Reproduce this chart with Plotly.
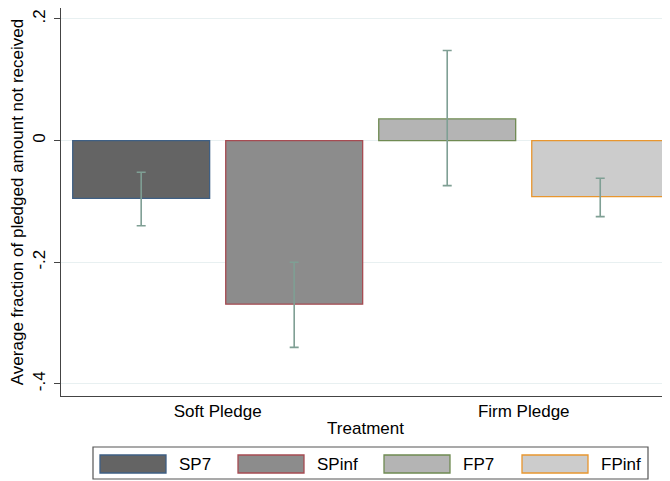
import plotly.graph_objects as go

# ---- data ----
categories = ["Soft Pledge", "Firm Pledge"]
series_names = ["SP7", "SPinf", "FP7", "FPinf"]
series_category = ["Soft Pledge", "Soft Pledge", "Firm Pledge", "Firm Pledge"]
series_slot = ["a", "b", "a", "b"]
means = [-0.095, -0.269, 0.0356, -0.092]
ci_lower = [-0.140, -0.340, -0.074, -0.125]
ci_upper = [-0.052, -0.200, 0.148, -0.062]
y_ticks = [0.2, 0.0, -0.2, -0.4]
y_tick_labels = [".2", "0", "-.2", "-.4"]

# ---- styles ----
fills = ["#646464", "#8c8c8c", "#b4b4b4", "#cccccc"]
outlines = ["#3e5f84", "#a64b52", "#6f8a52", "#e8962f"]
err_color = "#7f9f94"
font_family = "Liberation Sans, Arial, sans-serif"
FS = 17

# page has an 8px body margin; size the figure to fill the 670x481 window
OFF = 8
W, H = 670 - OFF, 481 - OFF
ML, MR, MT, MB = 61 - OFF, 0, 0, 85
pw, ph = W - ML - MR, H - MT - MB

fig = go.Figure()
for name, cat, slot, m, lo, hi, fc, oc in zip(series_names, series_category, series_slot,
                                               means, ci_lower, ci_upper, fills, outlines):
    fig.add_trace(go.Bar(
        x=[cat], y=[m], name=name, offsetgroup=slot,
        marker=dict(color=fc, line=dict(color=oc, width=1.3)),
        error_y=dict(type="data", symmetric=False, array=[hi - m], arrayminus=[m - lo],
                     color=err_color, thickness=1.6, width=4.5),
        showlegend=False,
    ))

fig.update_layout(
    width=W, height=H,
    margin=dict(l=ML, r=MR, t=MT, b=MB, pad=0),
    paper_bgcolor="white", plot_bgcolor="white",
    barmode="group", bargap=0.0, bargroupgap=0.105,
    font=dict(family=font_family, size=FS, color="#000000"),
    xaxis=dict(
        type="category", categoryorder="array", categoryarray=categories,
        range=[-0.512, 1.478],
        showline=True, linecolor="#444444", linewidth=1.2,
        ticks="", showgrid=False, zeroline=False,
        tickfont=dict(size=FS), ticklabelstandoff=-1,
        title=dict(text="Treatment", font=dict(size=FS), standoff=2),
    ),
    yaxis=dict(
        range=[-0.42, 0.218],
        tickvals=y_ticks, ticktext=y_tick_labels, tickangle=-90,
        ticks="outside", ticklen=6, tickcolor="#444444", tickwidth=1.2,
        showline=True, linecolor="#444444", linewidth=1.2,
        showgrid=True, gridcolor="#e8f0f1", gridwidth=1, zeroline=False,
        tickfont=dict(size=FS), ticklabelstandoff=2,
        title=dict(text="Average fraction of pledged amount not received",
                   font=dict(size=FS), standoff=2),
    ),
)

# ---- custom legend (layout decoration), positions in window pixels ----
def px_x(p):
    return (p - OFF - ML) / pw

def px_y(p):
    return (H - MB - (p - OFF)) / ph

fig.add_shape(type="rect", xref="paper", yref="paper",
              x0=px_x(93), x1=px_x(648), y0=px_y(479), y1=px_y(447),
              line=dict(color="#555555", width=1.2), fillcolor="white", layer="above")
swatch_left = [100, 238, 384, 522]
for name, fc, oc, sx in zip(series_names, fills, outlines, swatch_left):
    fig.add_shape(type="rect", xref="paper", yref="paper",
                  x0=px_x(sx), x1=px_x(sx + 66), y0=px_y(473), y1=px_y(455),
                  line=dict(color=oc, width=1.3), fillcolor=fc, layer="above")
    fig.add_annotation(xref="paper", yref="paper", x=px_x(sx + 77), y=px_y(464),
                       text=name, showarrow=False, xanchor="left", yanchor="middle",
                       font=dict(size=FS, color="#000000"))

fig.write_html("out.html")
